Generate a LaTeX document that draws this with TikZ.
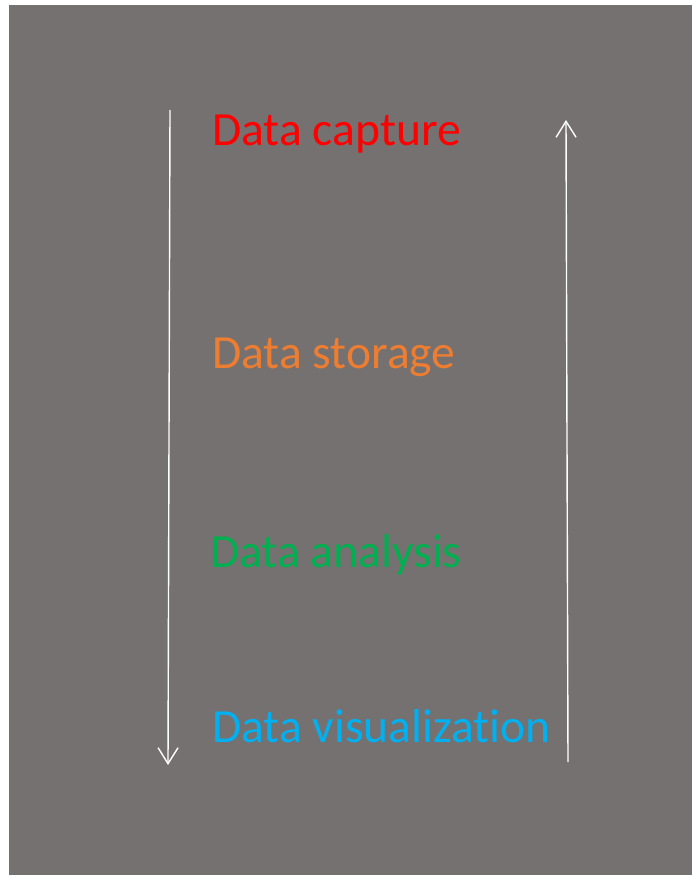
\documentclass[tikz,border=0pt]{standalone}
\usepackage{xcolor}
\usepackage{fontspec}
\setmainfont[Ligatures={NoCommon}]{Carlito}
\usepackage{tikz}
\usetikzlibrary{arrows.meta, positioning}
\definecolor{mygray}{RGB}{118,113,113}
\definecolor{myred}{RGB}{255,0,0}
\definecolor{myorange}{RGB}{237,125,49}
\definecolor{mygreen}{RGB}{0,176,80}
\definecolor{myblue}{RGB}{0,176,240}
\tikzset{
  stage/.style={inner sep=0pt, anchor=base west,
    font=\fontsize{47.6}{56}\selectfont},
  flow/.style={-{Straight Barb[length=16pt, width=20pt]},
    line width=1.4pt, color=white}
}

\begin{document}
\begin{tikzpicture}[x=1pt, y=-1pt]
  \useasboundingbox (0,0) rectangle (692,875);
  \fill[mygray] (9,5) rectangle (692,875);

  \node[stage, text=myred] (capture) at (212,145) {Data capture};
  \node[stage, text=myorange] (storage) at (212,368) {Data storage};
  \node[stage, text=mygreen] (analysis) at (210,567) {Data analysis};
  \node[stage, text=myblue] (visual) at (212,742) {Data visualization};

  \coordinate (downtop) at (170,110);
  \coordinate (downend) at (168,765);
  \coordinate (upstart) at (568,762);
  \coordinate (upend) at (566,120);

  \draw[flow] (downtop) -- (downend);
  \draw[flow] (upstart) -- (upend);
\end{tikzpicture}
\end{document}
